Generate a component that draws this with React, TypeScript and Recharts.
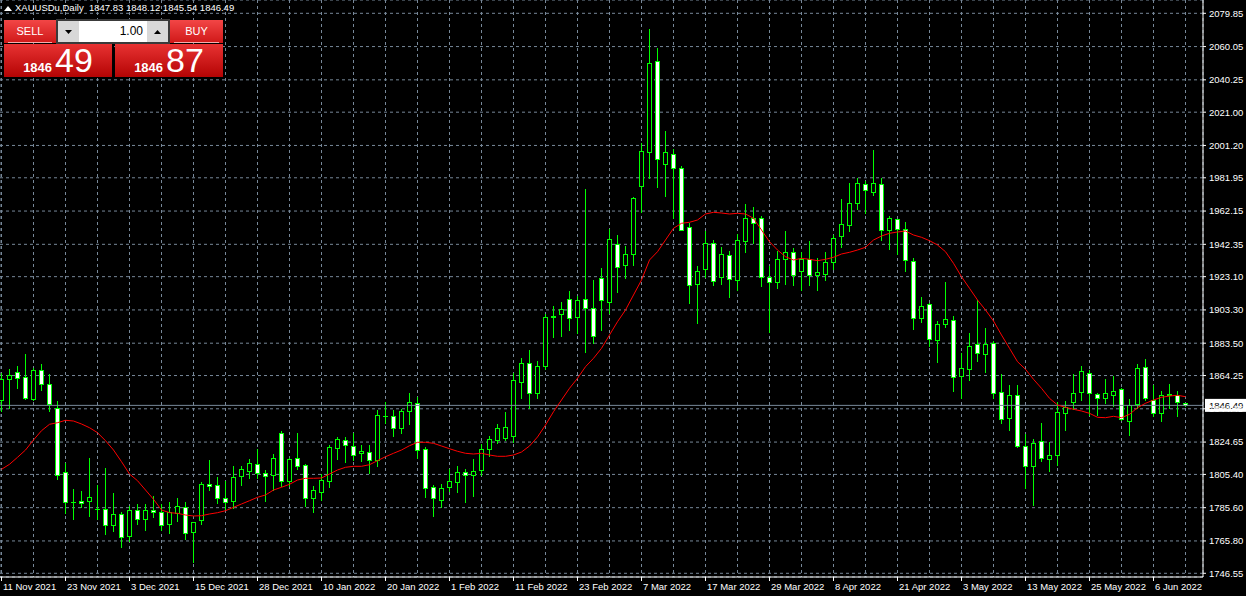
import React from 'react';
import { ComposedChart, Bar, Line, XAxis, YAxis, CartesianGrid, ReferenceLine } from 'recharts';

const dateLabels = ['11 Nov 2021', '23 Nov 2021', '3 Dec 2021', '15 Dec 2021', '28 Dec 2021', '10 Jan 2022', '20 Jan 2022', '1 Feb 2022', '11 Feb 2022', '23 Feb 2022', '7 Mar 2022', '17 Mar 2022', '29 Mar 2022', '8 Apr 2022', '21 Apr 2022', '3 May 2022', '13 May 2022', '25 May 2022', '6 Jun 2022'];

const opens = [1849.69, 1862.01, 1866.18, 1863.20, 1849.87, 1867.37, 1859.03, 1844.75, 1806.66, 1788.80, 1789.40, 1789.16, 1784.81, 1784.63, 1775.11, 1781.66, 1768.33, 1784.04, 1778.68, 1784.04, 1782.85, 1775.71, 1782.25, 1785.82, 1770.94, 1778.09, 1799.51, 1798.92, 1791.18, 1789.16, 1804.28, 1807.01, 1811.42, 1806.06, 1804.87, 1829.87, 1801.30, 1814.99, 1810.82, 1791.18, 1794.75, 1801.06, 1820.70, 1825.70, 1822.13, 1817.97, 1818.56, 1813.80, 1839.99, 1839.75, 1832.85, 1842.96, 1847.73, 1820.11, 1797.73, 1789.99, 1797.73, 1800.71, 1806.66, 1804.87, 1807.85, 1820.35, 1825.70, 1826.89, 1827.67, 1860.22, 1871.53, 1853.68, 1869.51, 1898.91, 1900.46, 1909.63, 1898.91, 1909.63, 1904.27, 1922.13, 1907.60, 1942.36, 1929.86, 1936.41, 1976.88, 1997.12, 2051.05, 1989.98, 1995.93, 1987.60, 1952.48, 1918.55, 1927.48, 1942.96, 1922.72, 1935.82, 1920.94, 1943.91, 1957.84, 1957.84, 1922.72, 1919.51, 1933.61, 1937.60, 1926.05, 1933.02, 1923.67, 1924.27, 1931.41, 1946.89, 1953.43, 1966.77, 1978.07, 1973.31, 1978.07, 1950.46, 1957.24, 1951.29, 1932.24, 1898.32, 1906.65, 1885.22, 1894.75, 1897.13, 1863.80, 1867.96, 1882.84, 1876.89, 1883.44, 1854.04, 1838.56, 1852.49, 1821.89, 1809.99, 1824.87, 1813.98, 1816.54, 1841.54, 1848.08, 1854.04, 1865.58, 1853.08, 1850.70, 1852.49, 1856.06, 1837.01, 1847.13, 1868.92, 1849.69, 1841.77, 1852.25, 1852.49, 1847.83];

const highs = [1866.18, 1868.56, 1870.52, 1877.49, 1868.74, 1871.12, 1865.76, 1849.69, 1812.61, 1796.72, 1795.53, 1815.76, 1799.69, 1809.22, 1794.75, 1783.21, 1786.60, 1787.79, 1787.79, 1792.97, 1787.79, 1789.40, 1791.77, 1789.40, 1777.67, 1800.90, 1814.57, 1804.45, 1801.90, 1810.82, 1810.82, 1814.99, 1820.53, 1808.03, 1817.55, 1831.83, 1815.17, 1830.05, 1811.60, 1798.92, 1806.06, 1823.50, 1828.26, 1828.26, 1830.47, 1823.50, 1822.91, 1843.74, 1848.50, 1843.74, 1844.51, 1854.45, 1852.07, 1822.31, 1799.51, 1800.11, 1809.04, 1810.82, 1809.04, 1814.99, 1823.92, 1828.68, 1836.00, 1842.73, 1866.18, 1875.10, 1879.87, 1873.08, 1901.29, 1905.64, 1908.61, 1914.57, 1912.01, 1975.28, 1921.53, 1928.67, 1951.47, 1948.49, 1941.77, 1970.69, 2003.25, 2071.10, 2059.62, 2009.80, 1999.50, 1989.56, 1955.22, 1929.86, 1950.28, 1945.34, 1940.93, 1938.97, 1948.91, 1966.77, 1964.74, 1959.80, 1930.04, 1938.97, 1950.28, 1940.34, 1937.78, 1944.92, 1934.39, 1938.37, 1948.49, 1969.74, 1979.27, 1982.00, 1980.63, 1998.91, 1982.00, 1959.80, 1957.84, 1956.23, 1934.63, 1911.59, 1907.60, 1897.13, 1920.34, 1900.10, 1878.08, 1889.99, 1909.63, 1892.96, 1885.40, 1865.58, 1858.62, 1859.03, 1829.87, 1826.89, 1836.42, 1824.87, 1848.68, 1849.69, 1865.58, 1869.93, 1867.55, 1854.27, 1862.19, 1864.39, 1857.01, 1850.46, 1871.53, 1874.51, 1859.03, 1855.64, 1859.63, 1855.46, 1848.12];

const lows = [1842.73, 1844.75, 1856.24, 1850.11, 1849.27, 1855.23, 1842.73, 1802.49, 1782.25, 1778.27, 1785.59, 1780.23, 1778.86, 1769.34, 1771.30, 1761.78, 1765.35, 1775.71, 1771.90, 1779.87, 1771.90, 1770.35, 1777.67, 1766.78, 1753.09, 1775.71, 1795.94, 1788.21, 1784.63, 1785.23, 1798.92, 1803.09, 1803.09, 1789.16, 1796.12, 1798.09, 1798.09, 1808.03, 1786.18, 1782.61, 1790.17, 1797.49, 1814.39, 1812.37, 1813.80, 1812.97, 1806.06, 1809.99, 1835.82, 1828.26, 1829.87, 1835.23, 1814.99, 1791.54, 1780.23, 1785.82, 1795.35, 1794.51, 1788.56, 1792.37, 1804.87, 1815.94, 1823.92, 1825.29, 1824.69, 1850.70, 1844.75, 1850.70, 1867.96, 1886.77, 1887.37, 1891.35, 1889.39, 1878.08, 1883.44, 1890.94, 1901.29, 1913.56, 1922.13, 1929.63, 1961.41, 1981.41, 1976.05, 1970.69, 1957.84, 1950.28, 1907.25, 1895.34, 1922.72, 1917.72, 1918.14, 1910.82, 1915.16, 1937.60, 1942.96, 1917.13, 1889.75, 1915.76, 1918.73, 1917.96, 1914.75, 1917.72, 1915.16, 1920.70, 1927.66, 1940.34, 1949.86, 1962.78, 1960.81, 1971.29, 1944.33, 1939.39, 1936.41, 1926.47, 1891.77, 1895.70, 1881.41, 1871.89, 1892.72, 1854.63, 1850.70, 1861.42, 1872.49, 1865.94, 1850.70, 1835.41, 1831.83, 1821.30, 1797.13, 1786.78, 1812.97, 1807.01, 1811.00, 1831.83, 1843.74, 1849.27, 1840.76, 1840.76, 1847.73, 1845.70, 1837.20, 1828.68, 1844.75, 1849.27, 1839.75, 1836.77, 1844.75, 1839.75, 1845.54];

const closes = [1862.01, 1864.39, 1862.61, 1850.46, 1867.37, 1859.03, 1847.13, 1804.87, 1788.80, 1788.95, 1788.21, 1791.77, 1784.63, 1775.11, 1781.66, 1767.97, 1784.04, 1778.68, 1784.04, 1782.85, 1775.11, 1782.85, 1786.42, 1770.35, 1776.90, 1799.51, 1798.32, 1791.18, 1788.80, 1803.68, 1808.44, 1812.01, 1806.06, 1804.28, 1814.99, 1801.30, 1814.39, 1810.23, 1791.18, 1795.94, 1801.90, 1821.54, 1826.30, 1822.73, 1816.77, 1819.16, 1813.80, 1840.58, 1839.75, 1832.85, 1842.96, 1848.32, 1819.75, 1797.13, 1791.18, 1797.13, 1801.30, 1806.66, 1804.87, 1807.25, 1820.35, 1826.30, 1832.85, 1833.44, 1861.00, 1871.53, 1853.68, 1869.51, 1898.91, 1899.51, 1903.68, 1898.32, 1909.03, 1904.27, 1887.78, 1909.21, 1945.34, 1928.67, 1936.41, 1969.74, 1997.72, 2050.09, 1992.54, 1997.12, 1987.60, 1950.70, 1917.96, 1926.29, 1942.96, 1920.34, 1936.41, 1921.53, 1944.74, 1957.84, 1954.86, 1922.72, 1919.75, 1933.02, 1937.60, 1923.67, 1933.02, 1923.67, 1925.70, 1931.65, 1945.93, 1954.27, 1966.77, 1978.67, 1974.09, 1978.67, 1950.70, 1957.84, 1951.29, 1932.84, 1898.32, 1905.46, 1885.82, 1894.75, 1897.72, 1863.20, 1868.56, 1881.65, 1877.49, 1882.84, 1853.68, 1838.20, 1852.49, 1821.89, 1809.99, 1823.92, 1814.99, 1816.77, 1842.37, 1845.35, 1853.68, 1866.95, 1853.68, 1850.70, 1853.68, 1854.87, 1837.79, 1846.54, 1868.56, 1850.70, 1841.77, 1852.49, 1853.08, 1848.32, 1846.49];

const maValues = [1808.44, 1811.42, 1815.58, 1819.93, 1825.88, 1831.42, 1835.23, 1836.18, 1837.61, 1837.19, 1835.41, 1833.20, 1830.23, 1825.47, 1819.93, 1812.97, 1805.65, 1801.66, 1796.12, 1790.59, 1784.22, 1782.61, 1782.25, 1781.24, 1780.65, 1780.83, 1781.84, 1782.61, 1783.80, 1785.82, 1787.79, 1789.75, 1791.77, 1793.15, 1796.12, 1797.73, 1799.51, 1802.07, 1803.09, 1803.09, 1803.26, 1805.65, 1808.03, 1809.63, 1810.23, 1810.23, 1811.18, 1813.56, 1815.94, 1817.97, 1819.93, 1822.49, 1824.51, 1824.51, 1823.92, 1822.31, 1820.70, 1819.16, 1817.97, 1817.55, 1817.97, 1816.95, 1816.18, 1816.18, 1816.95, 1818.74, 1822.31, 1827.67, 1834.81, 1842.73, 1849.69, 1856.65, 1862.61, 1869.51, 1874.51, 1880.46, 1888.38, 1896.29, 1903.26, 1912.19, 1921.11, 1933.02, 1937.96, 1944.92, 1951.89, 1954.86, 1955.46, 1956.83, 1960.40, 1961.41, 1960.99, 1960.40, 1960.81, 1960.40, 1957.84, 1950.87, 1943.91, 1938.97, 1934.98, 1933.02, 1934.03, 1933.43, 1932.60, 1933.43, 1934.62, 1936.59, 1937.60, 1938.97, 1940.58, 1944.92, 1947.30, 1948.91, 1949.68, 1950.28, 1947.90, 1946.53, 1944.51, 1941.95, 1937.96, 1931.05, 1923.08, 1916.17, 1909.21, 1903.26, 1896.71, 1888.38, 1880.46, 1872.49, 1867.96, 1862.01, 1856.65, 1850.70, 1846.71, 1845.35, 1844.15, 1843.14, 1841.77, 1839.39, 1839.16, 1839.99, 1839.16, 1841.18, 1845.11, 1847.73, 1849.69, 1851.30, 1852.07, 1852.49, 1851.65];

const priceTicks = [2079.85, 2060.05, 2040.25, 2021.0, 2001.2, 1981.95, 1962.15, 1942.35, 1923.1, 1903.3, 1883.5, 1864.25, 1844.45, 1824.65, 1805.4, 1785.6, 1765.8, 1746.55];
const priceDomain = [1744.34, 2087.77];
const lastPrice = 1846.49;
const symbolTitle = 'XAUUSDu,Daily  1847.83 1848.12 1845.54 1846.49';
const sellQuote = ['1846', '49'];
const buyQuote = ['1846', '87'];
const lotSize = '1.00';

const FONT = "'Liberation Sans', Arial, sans-serif";
const GRID = '#778899';
const CANDLE = '#00ff00';

const data = opens.map((o, i) => ({
  i,
  open: o,
  high: highs[i],
  low: lows[i],
  close: closes[i],
  range: [lows[i], highs[i]],
  ma: maValues[i],
}));
const xTicks = data.filter((d) => d.i % 4 === 0).map((d) => d.i);

const px = (v: number) => Math.round(v - 0.5) + 0.5;

const Candle = (props: any) => {
  const { x, y, width, height, payload } = props;
  if (!payload || height == null) return null;
  const { open, close, high, low } = payload;
  const cx = px(x + width / 2);
  const yOf = (p: number) => y + ((high - p) / (high - low)) * height;
  const top = px(yOf(Math.max(open, close)));
  const bot = px(yOf(Math.min(open, close)));
  const bull = close >= open;
  return (
    <g shapeRendering="crispEdges">
      <line x1={cx} x2={cx} y1={px(yOf(high))} y2={px(yOf(low))} stroke={CANDLE} strokeWidth={1} />
      {bot - top < 1 ? (
        <line x1={cx - 2.5} x2={cx + 2.5} y1={top} y2={top} stroke={CANDLE} strokeWidth={1} />
      ) : (
        <rect x={cx - 2} y={top} width={4} height={bot - top} fill={bull ? '#000' : '#fff'} stroke={CANDLE} strokeWidth={1} />
      )}
    </g>
  );
};

const DateTick = (props: any) => {
  const { x, y, payload } = props;
  const v = payload.value as number;
  if (v % 8 !== 0) return null;
  const label = dateLabels[v / 8];
  if (!label) return null;
  const tx = px(x);
  return (
    <g>
      <line x1={tx} x2={tx} y1={y} y2={y + 4} stroke="#fff" strokeWidth={1} shapeRendering="crispEdges" />
      <text x={tx + 1.5} y={y + 13} fill="#fff" fontSize={9.5} fontFamily={FONT}>
        {label}
      </text>
    </g>
  );
};

const PriceLabel = (props: any) => {
  const vb = props.viewBox || {};
  const bx = vb.x + vb.width + 2;
  const by = vb.y;
  return (
    <g>
      <rect x={bx} y={by - 6.5} width={43} height={13} fill="#fff" />
      <text x={bx + 4} y={by + 3.5} fill="#000" fontSize={9.5} fontFamily={FONT}>
        {lastPrice.toFixed(2)}
      </text>
    </g>
  );
};

const btnRed = 'linear-gradient(#f24646, #d01818)';
const boxRed = 'linear-gradient(#e83232, #b40404)';

const QuoteBox = ({ left, quote }: { left: number; quote: string[] }) => (
  <div
    style={{
      position: 'absolute',
      left,
      top: 44,
      width: 108,
      height: 33,
      background: boxRed,
      color: '#fff',
      display: 'flex',
      alignItems: 'baseline',
      justifyContent: 'center',
      fontFamily: FONT,
      lineHeight: '33px',
    }}
  >
    <span style={{ fontSize: 13, fontWeight: 'bold', marginRight: 3 }}>{quote[0]}</span>
    <span style={{ fontSize: 34 }}>{quote[1]}</span>
  </div>
);

const TopButton = ({ left, width, text }: { left: number; width: number; text: string }) => (
  <div
    style={{
      position: 'absolute',
      left,
      top: 20,
      width,
      height: 23,
      background: btnRed,
      color: '#fff',
      fontFamily: FONT,
      fontSize: 11,
      textAlign: 'center',
      lineHeight: '22px',
    }}
  >
    {text}
    <div style={{ position: 'absolute', left: 4, right: 4, bottom: 0, height: 1, background: 'rgba(255,210,210,0.8)' }} />
  </div>
);

export default function App() {
  return (
    <div style={{ position: 'absolute', left: 0, top: 0, width: 1246, height: 596, background: '#000', overflow: 'hidden' }}>
      <ComposedChart width={1246} height={596} data={data} margin={{ top: 0, right: 0, bottom: 0, left: 0 }} accessibilityLayer={false}>
        <CartesianGrid stroke={GRID} strokeDasharray="3 3" strokeWidth={1} />
        <XAxis
          type="number"
          dataKey="i"
          domain={[-0.1875, 150.1875]}
          allowDataOverflow
          ticks={xTicks}
          interval={0}
          height={19}
          tickSize={0}
          tickMargin={0}
          tickLine={false}
          axisLine={{ stroke: '#fff' }}
          tick={<DateTick />}
        />
        <YAxis
          orientation="right"
          type="number"
          domain={priceDomain}
          allowDataOverflow
          ticks={priceTicks}
          interval={0}
          width={43}
          tickSize={3}
          tickMargin={3}
          axisLine={{ stroke: '#fff' }}
          tickLine={{ stroke: '#fff' }}
          tick={{ fill: '#fff', fontSize: 9.5, fontFamily: FONT }}
          tickFormatter={(v: number) => v.toFixed(2)}
        />
        <ReferenceLine y={lastPrice} stroke={GRID} strokeWidth={1} label={<PriceLabel />} />
        <Bar dataKey="range" barSize={5} isAnimationActive={false} shape={(p: any) => <Candle {...p} />} />
        <Line type="linear" dataKey="ma" stroke="#ff0000" strokeWidth={1} dot={false} activeDot={false} isAnimationActive={false} />
      </ComposedChart>

      <div style={{ position: 'absolute', left: 4, top: 2, color: '#fff', fontFamily: FONT, fontSize: 9.5, whiteSpace: 'pre', display: 'flex', alignItems: 'center' }}>
        <svg width={8} height={6} style={{ marginRight: 3 }}>
          <polygon points="0,6 4,1 8,6" fill="#fff" />
        </svg>
        <span>{symbolTitle}</span>
      </div>

      <TopButton left={4} width={52} text="SELL" />
      <TopButton left={170} width={53} text="BUY" />

      <div style={{ position: 'absolute', left: 56, top: 19, width: 114, height: 25, background: '#3a3a3a' }}>
        <div style={{ position: 'absolute', left: 2, top: 2, width: 21, height: 21, background: '#d8d8d8', display: 'flex', alignItems: 'center', justifyContent: 'center' }}>
          <svg width={7} height={4}><polygon points="0,0 7,0 3.5,4" fill="#000" /></svg>
        </div>
        <div style={{ position: 'absolute', left: 23, top: 2, width: 68, height: 21, background: '#fff', color: '#000', fontFamily: FONT, fontSize: 12, textAlign: 'right', lineHeight: '21px', paddingRight: 4, boxSizing: 'border-box' }}>
          {lotSize}
        </div>
        <div style={{ position: 'absolute', left: 91, top: 2, width: 21, height: 21, background: '#d8d8d8', display: 'flex', alignItems: 'center', justifyContent: 'center' }}>
          <svg width={7} height={4}><polygon points="0,4 7,4 3.5,0" fill="#000" /></svg>
        </div>
      </div>

      <QuoteBox left={4} quote={sellQuote} />
      <QuoteBox left={115} quote={buyQuote} />
    </div>
  );
}
